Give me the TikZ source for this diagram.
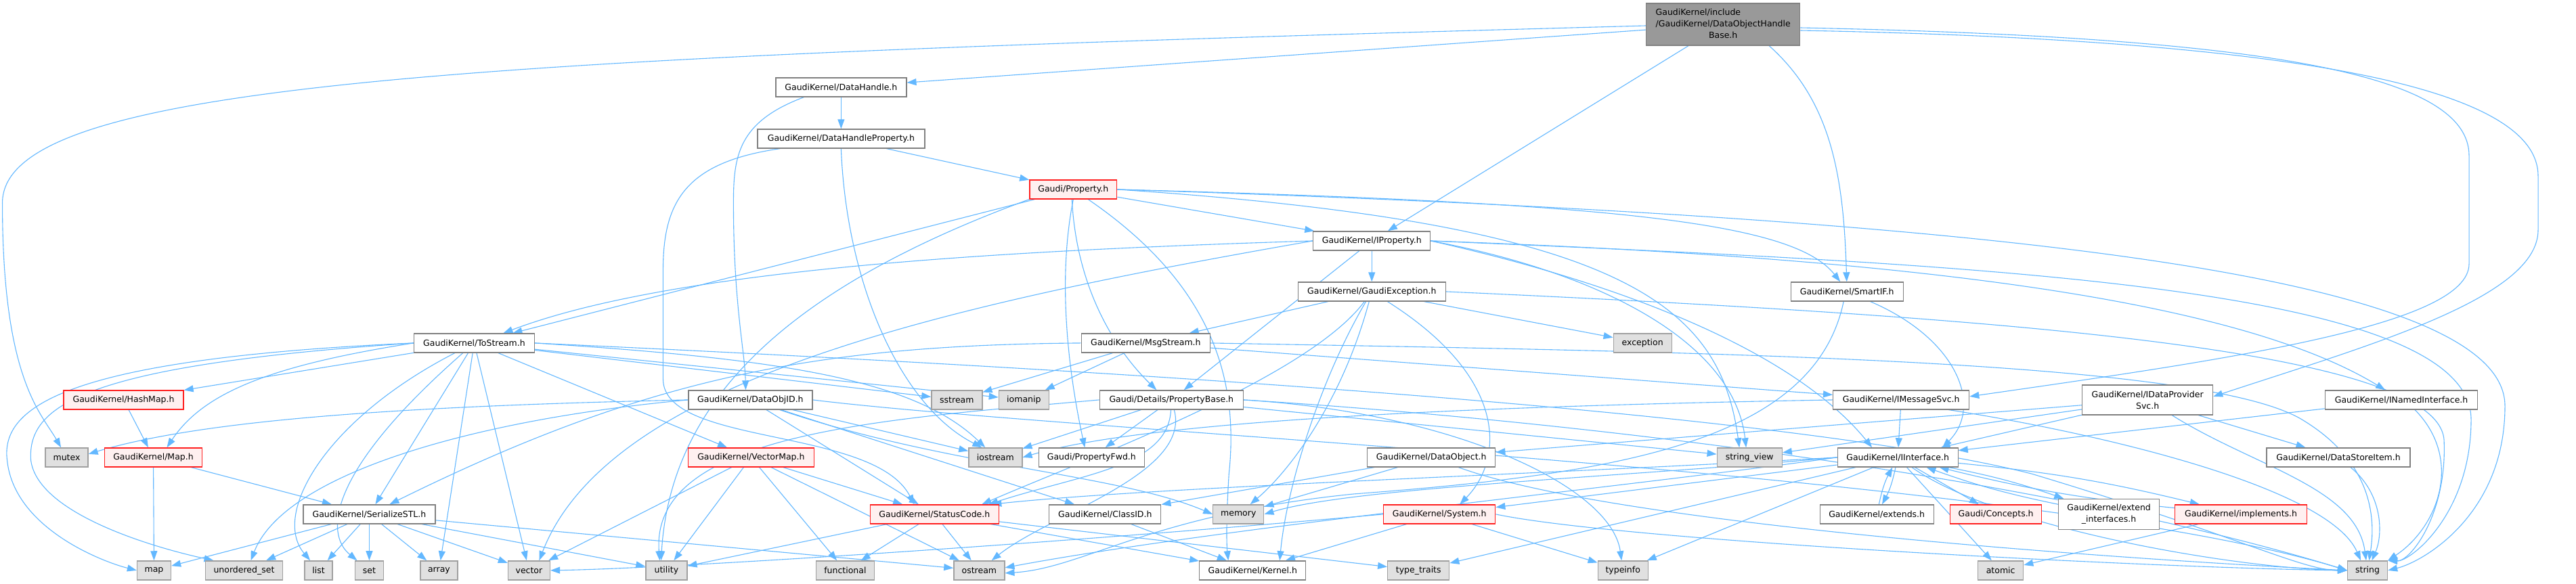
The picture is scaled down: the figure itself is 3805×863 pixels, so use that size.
\documentclass[tikz,border=0pt]{standalone}
\usepackage{fontspec}
\setmainfont{DejaVu Sans}
\usetikzlibrary{arrows.meta,backgrounds}
\definecolor{incLine}{HTML}{63B8FF}
\definecolor{hdrEdge}{HTML}{808080}
\definecolor{rootFill}{HTML}{999999}
\definecolor{sysFill}{HTML}{E0E0E0}
\definecolor{sysEdge}{HTML}{A0A0A0}
\definecolor{cutFill}{HTML}{FFF0F0}
\definecolor{cutEdge}{HTML}{FF2020}
\newcommand{\GraphFont}{\fontsize{12.5}{17}\selectfont}

\begin{document}
\begin{tikzpicture}[
  x=1pt, y=-1pt,
  font=\GraphFont,
  hdr/.style  = {draw=hdrEdge, fill=white, line width=1.3pt, minimum height=28pt, inner xsep=4pt, inner ysep=2pt},
  sys/.style  = {hdr, draw=sysEdge, fill=sysFill},
  cut/.style  = {hdr, draw=cutEdge, fill=cutFill},
  top/.style  = {hdr, fill=rootFill, minimum height=62pt},
  inc/.style  = {-{Triangle[length=14pt,width=10pt]}, draw=incLine, line width=1.1pt},
]

% ---------------------------------------------------------------- headers, top to bottom
\node[top, minimum width=227pt] (root) at (2545,36)
  {\begin{tabular}{@{}l@{}}GaudiKernel/include\\/GaudiKernel/DataObjectHandle\\\multicolumn{1}{@{}c@{}}{Base.h}\end{tabular}};

\node[hdr, minimum width=193pt] (datahandle) at (1242,129) {GaudiKernel/DataHandle.h};
\node[hdr, minimum width=247pt] (dhprop)     at (1242,205) {GaudiKernel/DataHandleProperty.h};
\node[cut, minimum width=129pt] (property)   at (1585,280) {Gaudi/Property.h};
\node[hdr, minimum width=173pt] (iprop)      at (2026,356) {GaudiKernel/IProperty.h};
\node[hdr, minimum width=218pt] (gexc)       at (2026,431) {GaudiKernel/GaudiException.h};
\node[hdr, minimum width=166pt] (smartif)    at (2728,431) {GaudiKernel/SmartIF.h};

\node[hdr, minimum width=178pt] (tostream)   at (700,507)  {GaudiKernel/ToStream.h};
\node[hdr, minimum width=190pt] (msgstream)  at (1692,507) {GaudiKernel/MsgStream.h};
\node[sys, minimum width=86pt]  (exception)  at (2426,507) {exception};

\node[cut, minimum width=177pt] (hashmap)    at (182,591)  {GaudiKernel/HashMap.h};
\node[hdr, minimum width=183pt] (dataobjid)  at (1108,591) {GaudiKernel/DataObjID.h};
\node[sys, minimum width=75pt]  (sstream)    at (1413,591) {sstream};
\node[sys, minimum width=74pt]  (iomanip)    at (1512,591) {iomanip};
\node[hdr, minimum width=212pt] (propbase)   at (1730,591) {Gaudi/Details/PropertyBase.h};
\node[hdr, minimum width=201pt] (imsgsvc)    at (2808,591) {GaudiKernel/IMessageSvc.h};
\node[hdr, minimum width=193pt, minimum height=44pt, align=center] (idpsvc) at (3172,591)
  {GaudiKernel/IDataProvider\\Svc.h};
\node[hdr, minimum width=225pt] (inamed)     at (3547,591) {GaudiKernel/INamedInterface.h};

\node[sys, minimum width=63pt]  (mutex)      at (98,676)   {mutex};
\node[cut, minimum width=144pt] (maph)       at (226,676)  {GaudiKernel/Map.h};
\node[cut, minimum width=186pt] (vectormap)  at (1109,676) {GaudiKernel/VectorMap.h};
\node[sys, minimum width=79pt]  (iostream)   at (1470,676) {iostream};
\node[hdr, minimum width=156pt] (propfwd)    at (1612,676) {Gaudi/PropertyFwd.h};
\node[hdr, minimum width=189pt] (dataobject) at (2114,676) {GaudiKernel/DataObject.h};
\node[sys, minimum width=96pt]  (strview)    at (2584,676) {string\_view};
\node[hdr, minimum width=178pt] (iinterface) at (2803,676) {GaudiKernel/IInterface.h};
\node[hdr, minimum width=212pt] (dsitem)     at (3454,676) {GaudiKernel/DataStoreItem.h};

\node[hdr, minimum width=195pt] (serialize)  at (545,760)  {GaudiKernel/SerializeSTL.h};
\node[cut, minimum width=190pt] (statuscode) at (1380,760) {GaudiKernel/StatusCode.h};
\node[hdr, minimum width=165pt] (classid)    at (1632,760) {GaudiKernel/ClassID.h};
\node[sys, minimum width=75pt]  (memory)     at (1829,760) {memory};
\node[cut, minimum width=165pt] (system)     at (2126,760) {GaudiKernel/System.h};
\node[hdr, minimum width=168pt] (extends)    at (2772,760) {GaudiKernel/extends.h};
\node[cut, minimum width=135pt] (concepts)   at (2948,760) {Gaudi/Concepts.h};
\node[hdr, minimum width=149pt, minimum height=45pt, align=center] (extendif) at (3115,760)
  {GaudiKernel/extend\\\_interfaces.h};
\node[cut, minimum width=195pt] (implements) at (3310,760) {GaudiKernel/implements.h};

% ---------------------------------------------------------------- standard headers
\node[sys, minimum width=50pt]  (stlmap)     at (227,843)  {map};
\node[sys, minimum width=114pt] (uset)       at (360,843)  {unordered\_set};
\node[sys, minimum width=41pt]  (list)       at (470,843)  {list};
\node[sys, minimum width=42pt]  (stlset)     at (545,843)  {set};
\node[sys, minimum width=55pt]  (array)      at (648,843)  {array};
\node[sys, minimum width=62pt]  (vector)     at (781,843)  {vector};
\node[sys, minimum width=61pt]  (utility)    at (984,843)  {utility};
\node[sys, minimum width=86pt]  (functional) at (1248,843) {functional};
\node[sys, minimum width=75pt]  (ostream)    at (1446,843) {ostream};
\node[hdr, minimum width=157pt] (kernel)     at (1850,843) {GaudiKernel/Kernel.h};
\node[sys, minimum width=91pt]  (typetraits) at (2095,843) {type\_traits};
\node[sys, minimum width=74pt]  (typeinfo)   at (2397,843) {typeinfo};
\node[sys, minimum width=67pt]  (atomic)     at (2955,843) {atomic};
\node[sys, minimum width=59pt]  (string)     at (3497,843) {string};

\begin{scope}[on background layer]
  \fill[white] (0,0) rectangle (3805,863);

  % --- short includes, straight
  \foreach \a/\b in {
    root/datahandle, root/iprop, datahandle/dhprop, dhprop/property,
    property/tostream, property/iprop,
    iprop/gexc, iprop/propbase,
    gexc/msgstream, gexc/exception,
    tostream/hashmap, tostream/serialize, tostream/vectormap, tostream/array,
    tostream/vector, tostream/sstream, tostream/iomanip,
    hashmap/maph, maph/stlmap, maph/serialize,
    serialize/stlmap, serialize/uset, serialize/list, serialize/stlset,
    serialize/array, serialize/vector, serialize/utility, serialize/ostream,
    vectormap/vector, vectormap/utility, vectormap/functional,
    vectormap/ostream, vectormap/statuscode,
    dataobjid/iostream, dataobjid/statuscode, dataobjid/classid,
    classid/kernel,
    statuscode/utility, statuscode/functional, statuscode/ostream,
    statuscode/kernel, statuscode/typetraits,
    propbase/iostream, propbase/propfwd, propbase/strview,
    msgstream/sstream, msgstream/iomanip, msgstream/imsgsvc,
    imsgsvc/iinterface, idpsvc/dataobject, idpsvc/strview, idpsvc/iinterface,
    idpsvc/dsitem, inamed/iinterface,
    dataobject/classid, dataobject/memory,
    iinterface/system, iinterface/typetraits, iinterface/typeinfo,
    iinterface/atomic, iinterface/concepts, implements/atomic,
    system/kernel, system/typeinfo}
    \draw[inc] (\a) -- (\b);

  % --- two-way includes round IInterface
  \draw[inc] (iinterface) to[bend left=8] (extends);
  \draw[inc] (extends) to[bend left=8] (iinterface);
  \draw[inc] (iinterface) to[bend left=4] (extendif);
  \draw[inc] (extendif) to[bend left=4] (iinterface);
  \draw[inc] (iinterface) to[bend left=4] (implements);
  \draw[inc] (implements) to[bend left=4] (iinterface);

  % --- from the root file
  \draw[inc] ([yshift=-2pt]root.west) .. controls (700,85) and (3,120) .. (3,300)
             .. controls (3,560) and (60,610) .. (mutex);
  \draw[inc] ([xshift=68pt]root.south) .. controls (2705,150) and (2723,260) .. (smartif);
  \draw[inc] ([yshift=-5pt]root.east) .. controls (3350,55) and (3647,110) .. (3647,230)
             -- (3647,390) .. controls (3647,480) and (3300,530) .. ([yshift=5pt]imsgsvc.east);
  \draw[inc] ([yshift=-9pt]root.east) .. controls (3450,60) and (3749,140) .. (3749,260)
             -- (3749,340) .. controls (3749,440) and (3500,510) .. ([yshift=5pt]idpsvc.east);

  % --- DataHandle and its property
  \draw[inc] ([xshift=-55pt]datahandle.south) .. controls (1090,180) and (1083,230) .. (1083,300)
             .. controls (1083,450) and (1100,520) .. ([xshift=-7pt]dataobjid.north);
  \draw[inc] ([xshift=-90pt]dhprop.south) .. controls (1010,240) and (979,300) .. (979,400)
             -- (979,560) .. controls (979,660) and (1290,630) .. ([xshift=-30pt]statuscode.north);
  \draw[inc] (dhprop.south) .. controls (1250,420) and (1330,600) .. ([xshift=-20pt]iostream.north);

  % --- Gaudi/Property.h
  \draw[inc] (property.east) .. controls (2400,300) and (2650,330) .. ([xshift=-10pt]smartif.north);
  \draw[inc] (property.east) .. controls (2400,330) and (2540,450) .. ([xshift=-15pt]strview.north);
  \draw[inc] (property.east) .. controls (2900,320) and (3700,400) .. (3700,600)
             .. controls (3700,760) and (3580,830) .. (string.east);
  \draw[inc] ([xshift=-2pt]property.south) .. controls (1590,430) and (1650,520) .. ([xshift=-22pt]propbase.north);
  \draw[inc] (property.south) .. controls (1560,420) and (1580,560) .. ([xshift=-10pt]propfwd.north);
  \draw[inc] ([xshift=22pt]property.south) .. controls (1790,420) and (1830,560) .. (1815,700)
             .. controls (1810,780) and (1812,810) .. ([xshift=-36pt]kernel.north);
  \draw[inc] (property.south west) .. controls (1150,430) and (990,600) .. ([xshift=-8pt]utility.north);

  % --- GaudiKernel/IProperty.h
  \draw[inc] (iprop.west) .. controls (1500,370) and (1000,395) .. ([xshift=43pt]tostream.north);
  \draw[inc] (iprop.west) .. controls (1400,450) and (900,560) .. ([xshift=15pt]vector.north);
  \draw[inc] (iprop.east) .. controls (2400,420) and (2650,520) .. ([xshift=-38pt]iinterface.north);
  \draw[inc] (iprop.east) .. controls (2350,400) and (2560,500) .. ([xshift=-5pt]strview.north);
  \draw[inc] (iprop.east) .. controls (2800,380) and (3300,440) .. (inamed);
  \draw[inc] (iprop.east) .. controls (2900,390) and (3650,420) .. (3650,620)
             .. controls (3650,760) and (3560,830) .. (string.north east);

  % --- GaudiKernel/GaudiException.h
  \draw[inc] (gexc) .. controls (1930,560) and (1600,680) .. ([xshift=70pt]statuscode.north);
  \draw[inc] (gexc) .. controls (1950,560) and (1900,720) .. ([xshift=40pt]kernel.north);
  \draw[inc] (gexc) .. controls (1980,600) and (1900,700) .. (memory);
  \draw[inc] (gexc) .. controls (2230,560) and (2220,680) .. ([xshift=30pt]system.north);
  \draw[inc] (gexc.east) .. controls (3000,470) and (3600,520) .. (3610,650)
             .. controls (3615,760) and (3560,830) .. (string.north east);

  % --- GaudiKernel/SmartIF.h
  \draw[inc] (smartif) .. controls (2890,500) and (2930,600) .. ([xshift=66pt]iinterface.north);
  \draw[inc] ([xshift=-5pt]smartif.south) .. controls (2680,650) and (2400,700) .. (2000,730)
             .. controls (1700,760) and (1600,840) .. ([yshift=-4pt]ostream.east);

  % --- GaudiKernel/ToStream.h
  \draw[inc] (tostream.west) .. controls (400,540) and (300,580) .. ([xshift=20pt]maph.north);
  \draw[inc] (tostream.west) .. controls (100,530) and (0,600) .. (10,680)
             .. controls (20,780) and (150,830) .. (stlmap.west);
  \draw[inc] (tostream.west) .. controls (120,540) and (40,600) .. (45,680)
             .. controls (55,760) and (230,810) .. ([xshift=-45pt]uset.north);
  \draw[inc] (tostream) .. controls (480,620) and (400,760) .. (list);
  \draw[inc] (tostream) .. controls (480,700) and (480,790) .. (stlset);
  \draw[inc] (tostream.east) .. controls (1150,530) and (1350,560) .. (iostream);
  \draw[inc] (tostream.east) .. controls (1500,540) and (2600,600) .. (3000,700)
             .. controls (3300,790) and (3400,843) .. (string.west);

  % --- GaudiKernel/DataObjID.h
  \draw[inc] (dataobjid.west) .. controls (600,600) and (300,620) .. ([yshift=5pt]mutex.east);
  \draw[inc] (dataobjid.west) .. controls (700,620) and (420,700) .. ([xshift=10pt]uset.north);
  \draw[inc] (dataobjid) .. controls (1400,690) and (1650,700) .. (memory.west);
  \draw[inc] (dataobjid.east) .. controls (1600,640) and (3000,700) .. (string.west);

  % --- Gaudi/Details/PropertyBase.h
  \draw[inc] (propbase.west) .. controls (1300,620) and (960,640) .. ([xshift=-10pt]utility.north);
  \draw[inc] (propbase) .. controls (1725,690) and (1600,700) .. ([xshift=80pt]statuscode.north);
  \draw[inc] (propbase) .. controls (1760,700) and (1550,760) .. (ostream);
  \draw[inc] (propbase.east) .. controls (2150,610) and (2380,720) .. (typeinfo);
  \draw[inc] (propbase.east) .. controls (2300,620) and (3000,700) .. (string.west);

  % --- MsgStream, IMessageSvc, IDataProviderSvc, INamedInterface
  \draw[inc] (msgstream.west) .. controls (1200,510) and (950,560) .. ([xshift=30pt]serialize.north);
  \draw[inc] (msgstream.east) .. controls (2500,520) and (3250,530) .. (3400,620)
             .. controls (3500,680) and (3510,760) .. (string);
  \draw[inc] (imsgsvc.west) .. controls (2200,600) and (1700,620) .. (iostream.east);
  \draw[inc] ([xshift=70pt]imsgsvc.south) .. controls (3100,640) and (3440,720) .. ([xshift=-10pt]string.north);
  \draw[inc] (idpsvc) .. controls (3330,690) and (3480,720) .. (string);
  \draw[inc] ([xshift=20pt]inamed.south) .. controls (3640,680) and (3600,780) .. (string.north east);
  \draw[inc] (dsitem) .. controls (3520,730) and (3520,790) .. (string);

  % --- DataObject, IInterface, System
  \draw[inc] ([xshift=40pt]dataobject.south) .. controls (2400,780) and (3200,830) .. (string.west);
  \draw[inc] (iinterface.west) .. controls (2300,700) and (1700,720) .. ([xshift=85pt]statuscode.north);
  \draw[inc] (iinterface.west) .. controls (2400,705) and (2000,720) .. (memory.east);
  \draw[inc] (iinterface.west) .. controls (2400,720) and (1800,780) .. ([yshift=4pt]ostream.east);
  \draw[inc] (iinterface) .. controls (2950,780) and (3300,840) .. (string.west);
  \draw[inc] (system.east) .. controls (2400,800) and (3200,840) .. (string.west);
  \draw[inc] (system.west) .. controls (1600,800) and (1000,840) .. (vector.east);
\end{scope}

\useasboundingbox (0,0) rectangle (3805,863);
\end{tikzpicture}
\end{document}
